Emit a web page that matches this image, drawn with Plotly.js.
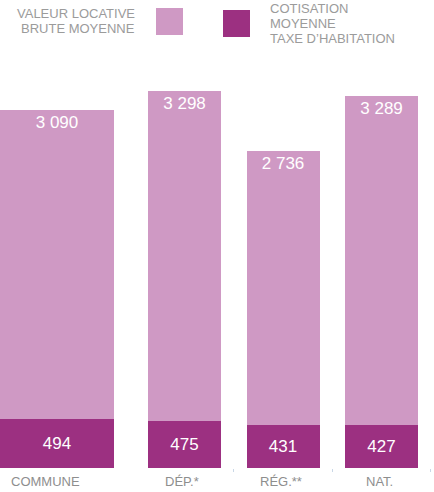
<!DOCTYPE html>
<html>
<head>
<meta charset="utf-8">
<script src="https://cdn.plot.ly/plotly-3.0.1.min.js"></script>
<style>html,body{margin:0;padding:0;background:#fff}#chart{width:434px;height:492px}</style>
</head>
<body>
<div id="chart"></div>
<script>
// ---- data ----
const categories = ['COMMUNE', 'DÉP.*', 'RÉG.**', 'NAT.'];
const valeurLocative = [3090, 3298, 2736, 3289];
const cotisation = [494, 475, 431, 427];
const legendLeft = ['VALEUR LOCATIVE', 'BRUTE MOYENNE'];
const legendRight = ['COTISATION', 'MOYENNE', 'TAXE D’HABITATION'];

// ---- styling / layout ----
const W = 434, H = 492, B = 24;
const PLOT_H = H - B;
const PINK = '#cf99c4', DARK = '#9c3081';
const FONT = 'Liberation Sans, Arial, Helvetica, sans-serif';
const fmt = v => String(v).replace(/\B(?=(\d{3})+(?!\d))/g, ' ');
const px = x => x / W;
const py = y => (PLOT_H - y) / PLOT_H;

const X0 = -0.873, X1 = 3.533;
const widths = categories.map((c, i) => i === 0 ? 1.157 : 0.741);
const offsets = categories.map((c, i) => i === 0 ? X0 : -0.37);

const common = {
  type: 'bar', x: categories, width: widths, offset: offsets,
  textposition: 'inside', textangle: 0, constraintext: 'none',
  textfont: {family: FONT, size: 17, color: '#ffffff'},
  hoverinfo: 'skip', showlegend: false, cliponaxis: true
};

const traces = [
  Object.assign({}, common, {
    y: cotisation, text: cotisation.map(fmt),
    insidetextanchor: 'middle',
    marker: {color: DARK, line: {width: 0}}
  }),
  Object.assign({}, common, {
    y: valeurLocative, text: valeurLocative.map(fmt),
    insidetextanchor: 'end',
    marker: {color: PINK, line: {width: 0}}
  })
];

const annotations = [];
const labelShift = [-40, -2, -2, -2];
categories.forEach((c, i) => annotations.push({
  x: i, xref: 'x', y: py(482), yref: 'paper', xshift: labelShift[i],
  text: c, showarrow: false, xanchor: 'center', yanchor: 'middle',
  font: {family: FONT, size: 13, color: '#8e8e8e'}
}));
const leftY = [13, 28];
legendLeft.forEach((t, i) => annotations.push({
  x: px(137), xref: 'paper', y: py(leftY[i]), yref: 'paper',
  text: t, showarrow: false, xanchor: 'right', yanchor: 'middle', align: 'right',
  font: {family: FONT, size: 13, color: '#9b9b9b'}
}));
const rightY = [8, 23, 38];
legendRight.forEach((t, i) => annotations.push({
  x: px(268), xref: 'paper', y: py(rightY[i]), yref: 'paper',
  text: t, showarrow: false, xanchor: 'left', yanchor: 'middle', align: 'left',
  font: {family: FONT, size: 13, color: '#9b9b9b'}
}));

const shapes = [
  {type: 'rect', xref: 'paper', yref: 'paper', x0: px(156), x1: px(183), y0: py(35), y1: py(8),
   fillcolor: PINK, line: {width: 0}},
  {type: 'rect', xref: 'paper', yref: 'paper', x0: px(223), x1: px(250), y0: py(37), y1: py(10),
   fillcolor: DARK, line: {width: 0}}
];

const layout = {
  width: W, height: H,
  margin: {l: 0, r: 0, t: 0, b: B, pad: 0},
  paper_bgcolor: '#ffffff', plot_bgcolor: '#ffffff',
  barmode: 'stack', showlegend: false,
  font: {family: FONT},
  xaxis: {
    type: 'category', range: [X0, X1], fixedrange: true,
    showticklabels: false, showgrid: false, zeroline: false, showline: false,
    tickmode: 'array', tickvals: [1.5, 2.5, 3.5], ticks: 'outside',
    ticklen: 3, tickwidth: 1, tickcolor: '#c9d7e6'
  },
  yaxis: {
    range: [0, PLOT_H * 10], visible: false, fixedrange: true,
    showgrid: false, zeroline: false
  },
  annotations: annotations,
  shapes: shapes
};

Plotly.newPlot('chart', traces, layout, {displayModeBar: false, staticPlot: true});
</script>
</body>
</html>
